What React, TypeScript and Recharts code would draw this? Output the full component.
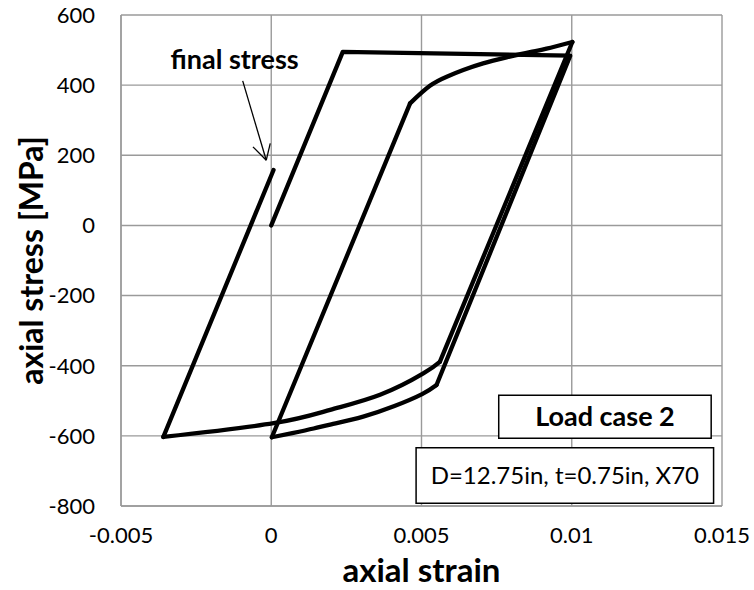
import React from "react";
import {
  LineChart,
  Line,
  XAxis,
  YAxis,
  CartesianGrid,
  ReferenceArea,
  ReferenceLine,
  ReferenceDot,
  Label,
} from "recharts";

// ---- data (strain [-], stress [MPa]) ----
// elastic-plastic first loading and elastic unloading
const firstLoading = [
  { strain: 0, stress: 0 },
  { strain: 0.00238, stress: 495 },
  { strain: 0.00995, stress: 484 },
  { strain: 0.0055, stress: -455 },
];

// first compressive hardening curve
const firstUnloading = [
  { strain: 0.0055, stress: -455 },
  { strain: 0.00502, stress: -481 },
  { strain: 0.0041, stress: -515 },
  { strain: 0.00306, stress: -545 },
  { strain: 0.002, stress: -567 },
  { strain: 0.00141, stress: -579 },
  { strain: 0.0007, stress: -592 },
  { strain: 0.00002, stress: -604 },
];

// elastic reloading
const reloadingElastic = [
  { strain: 0.00002, stress: -604 },
  { strain: 0.00462, stress: 348 },
];

// tensile hardening curve
const reloading = [
  { strain: 0.00462, stress: 348 },
  { strain: 0.00528, stress: 398 },
  { strain: 0.00584, stress: 424 },
  { strain: 0.00639, stress: 443 },
  { strain: 0.00705, stress: 462 },
  { strain: 0.00783, stress: 479 },
  { strain: 0.00861, stress: 494 },
  { strain: 0.00916, stress: 504 },
  { strain: 0.01002, stress: 523 },
];

// elastic unloading
const secondUnloadingElastic = [
  { strain: 0.01002, stress: 523 },
  { strain: 0.00561, stress: -389 },
];

// second compressive hardening curve
const secondUnloading = [
  { strain: 0.00561, stress: -389 },
  { strain: 0.00506, stress: -422 },
  { strain: 0.00362, stress: -483 },
  { strain: 0.00196, stress: -526 },
  { strain: 0.00008, stress: -564 },
  { strain: -0.00359, stress: -603 },
];

// final elastic reloading
const finalReloading = [
  { strain: -0.00359, stress: -603 },
  { strain: 0.000076, stress: 158 },
];

const xTicks = [-0.005, 0, 0.005, 0.01, 0.015];
const yTicks = [-800, -600, -400, -200, 0, 200, 400, 600];

const straightSegments = [
  firstLoading,
  reloadingElastic,
  secondUnloadingElastic,
  finalReloading,
];
const curvedSegments = [firstUnloading, reloading, secondUnloading];

const FONT = "Lato, 'Open Sans', sans-serif";

// annotation placement (data coordinates)
const caseBox = { x1: 0.00757, x2: 0.01464, y1: -607, y2: -484 };
const specBox = { x1: 0.00482, x2: 0.01472, y1: -792, y2: -634 };
const arrowShaft = [
  { x: -0.00095, y: 412 },
  { x: -0.000166, y: 186 },
];
const arrowHeadA = [
  { x: -0.000608, y: 224 },
  { x: -0.000166, y: 186 },
];
const arrowHeadB = [
  { x: -0.0000332, y: 234 },
  { x: -0.000166, y: 186 },
];

export default function App() {
  return (
    <div style={{ position: "absolute", left: 0, top: 0 }}>
      <LineChart
        width={754}
        height={590}
        margin={{ top: 15, right: 32, bottom: 0, left: 0 }}
      >
        <CartesianGrid stroke="#9a9a9a" strokeWidth={1.4} />
        <XAxis
          dataKey="strain"
          type="number"
          domain={[-0.005, 0.015]}
          ticks={xTicks}
          height={84}
          tickLine={false}
          tickSize={0}
          tickMargin={21}
          axisLine={{ stroke: "#9a9a9a", strokeWidth: 1.4 }}
          tick={{ fill: "#000", fontSize: 22, fontFamily: FONT }}
          interval={0}
          allowDuplicatedCategory={false}
        >
          <Label
            content={(p: any) => {
              const vb = p.viewBox || { x: 121, y: 506, width: 601 };
              return (
                <text
                  x={vb.x + vb.width / 2}
                  y={vb.y + 76}
                  textAnchor="middle"
                  fontFamily={FONT}
                  fontWeight="bold"
                  fontSize={33}
                  fill="#000"
                >
                  axial strain
                </text>
              );
            }}
          />
        </XAxis>
        <YAxis
          type="number"
          domain={[-800, 600]}
          ticks={yTicks}
          width={121}
          tickLine={false}
          tickSize={0}
          tickMargin={26}
          axisLine={{ stroke: "#9a9a9a", strokeWidth: 1.4 }}
          tick={{ fill: "#000", fontSize: 22, fontFamily: FONT }}
          interval={0}
        >
          <Label
            content={(p: any) => {
              const vb = p.viewBox || { x: 0, y: 15, height: 491 };
              const cx = 43;
              const cy = vb.y + vb.height / 2;
              return (
                <text
                  x={cx}
                  y={cy}
                  transform={`rotate(-90, ${cx}, ${cy})`}
                  textAnchor="middle"
                  fontFamily={FONT}
                  fontWeight="bold"
                  fontSize={32}
                  fill="#000"
                >
                  axial stress [MPa]
                </text>
              );
            }}
          />
        </YAxis>
        <ReferenceArea
          {...caseBox}
          fill="#fff"
          fillOpacity={1}
          stroke="#000"
          strokeWidth={1.5}
          ifOverflow="visible"
        >
          <Label
            value="Load case 2"
            position="center"
            fontFamily={FONT}
            fontWeight="bold"
            fontSize={27}
            fill="#000"
          />
        </ReferenceArea>
        <ReferenceArea
          {...specBox}
          fill="#fff"
          fillOpacity={1}
          stroke="#000"
          strokeWidth={1.5}
          ifOverflow="visible"
        >
          <Label
            value="D=12.75in, t=0.75in, X70"
            position="center"
            fontFamily={FONT}
            fontSize={24}
            fill="#000"
          />
        </ReferenceArea>
        <ReferenceLine segment={arrowShaft} stroke="#000" strokeWidth={1.3} ifOverflow="visible" />
        <ReferenceLine segment={arrowHeadA} stroke="#000" strokeWidth={1.3} ifOverflow="visible" />
        <ReferenceLine segment={arrowHeadB} stroke="#000" strokeWidth={1.3} ifOverflow="visible" />
        <ReferenceDot
          x={-0.00122}
          y={472}
          r={0}
          fill="none"
          stroke="none"
          ifOverflow="visible"
        >
          <Label
            value="final stress"
            position="center"
            fontFamily={FONT}
            fontWeight="bold"
            fontSize={27}
            fill="#000"
          />
        </ReferenceDot>
        {straightSegments.map((seg, i) => (
          <Line
            key={`s${i}`}
            data={seg}
            dataKey="stress"
            type="linear"
            stroke="#000"
            strokeWidth={4.3}
            strokeLinecap="round"
            strokeLinejoin="round"
            dot={false}
            activeDot={false}
            isAnimationActive={false}
          />
        ))}
        {curvedSegments.map((seg, i) => (
          <Line
            key={`c${i}`}
            data={seg}
            dataKey="stress"
            type="natural"
            stroke="#000"
            strokeWidth={4.3}
            strokeLinecap="round"
            strokeLinejoin="round"
            dot={false}
            activeDot={false}
            isAnimationActive={false}
          />
        ))}
      </LineChart>
    </div>
  );
}
